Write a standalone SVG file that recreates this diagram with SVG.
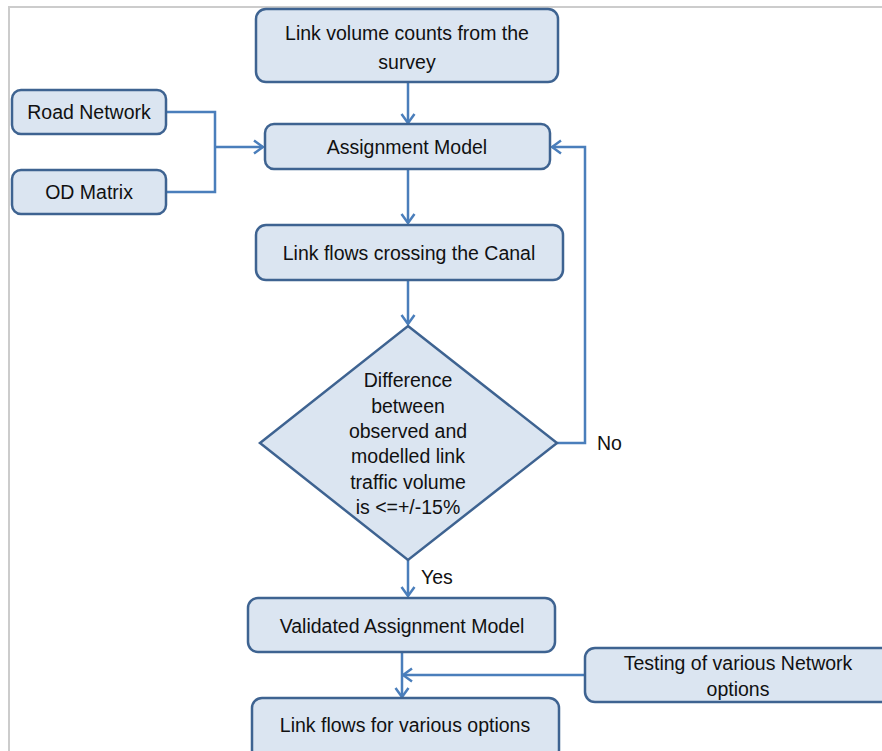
<svg xmlns="http://www.w3.org/2000/svg" width="882" height="751" viewBox="0 0 882 751">
<style>
.box{fill:#dbe5f1;stroke:#3e6391;stroke-width:2.5}
.t{font-family:"Liberation Sans",Arial,sans-serif;font-size:19.5px;fill:#111;text-anchor:middle}
.l{font-family:"Liberation Sans",Arial,sans-serif;font-size:19.5px;fill:#111}
.c{fill:none;stroke:#4a7ebb;stroke-width:2.5}
.frame{stroke:#cccccc;stroke-width:2;fill:none}
</style>
<defs>
<marker id="arr" markerUnits="userSpaceOnUse" markerWidth="14" markerHeight="16" viewBox="0 0 14 16" refX="12" refY="8" orient="auto">
<path d="M3,1.5 L12,8 L3,14.5" fill="none" stroke="#4a7ebb" stroke-width="2.5"/>
</marker>
</defs>
<rect width="882" height="751" fill="#ffffff"/>
<path class="frame" d="M9,751 V7 H882"/>
<g id="connectors">
<line class="c" x1="408" y1="82" x2="408" y2="123" marker-end="url(#arr)"/>
<polyline class="c" points="166,112 215,112 215,192 166,192"/>
<line class="c" x1="215" y1="147" x2="263" y2="147" marker-end="url(#arr)"/>
<line class="c" x1="408" y1="169" x2="408" y2="223" marker-end="url(#arr)"/>
<line class="c" x1="408" y1="280" x2="408" y2="324" marker-end="url(#arr)"/>
<polyline class="c" points="557,443 585,443 585,147 552,147" marker-end="url(#arr)"/>
<line class="c" x1="408" y1="560" x2="408" y2="596" marker-end="url(#arr)"/>
<line class="c" x1="402" y1="652" x2="402" y2="697" marker-end="url(#arr)"/>
<line class="c" x1="585" y1="675" x2="403" y2="675" marker-end="url(#arr)"/>
<text class="l" x="597" y="450">No</text>
<text class="l" x="421" y="584">Yes</text>
</g>
<g id="survey">
<rect class="box" x="256" y="9" width="302" height="73" rx="10"/>
<text class="t" x="407" y="40">Link volume counts from the</text>
<text class="t" x="407" y="69">survey</text>
</g>
<g id="road">
<rect class="box" x="12" y="90" width="154" height="44" rx="9"/>
<text class="t" x="89" y="119">Road Network</text>
</g>
<g id="od">
<rect class="box" x="12" y="170" width="154" height="44" rx="9"/>
<text class="t" x="89" y="199">OD Matrix</text>
</g>
<g id="assignment">
<rect class="box" x="265" y="124" width="285" height="45" rx="9"/>
<text class="t" x="407" y="154">Assignment Model</text>
</g>
<g id="canal">
<rect class="box" x="256" y="225" width="307" height="55" rx="10"/>
<text class="t" x="409" y="260">Link flows crossing the Canal</text>
</g>
<g id="decision">
<polygon class="box" points="408,326 557,443 408,560 260,443"/>
<text class="t" x="408" y="387">Difference</text>
<text class="t" x="408" y="413">between</text>
<text class="t" x="408" y="438">observed and</text>
<text class="t" x="408" y="463">modelled link</text>
<text class="t" x="408" y="489">traffic volume</text>
<text class="t" x="408" y="514">is &lt;=+/-15%</text>
</g>
<g id="validated">
<rect class="box" x="248" y="598" width="307" height="54" rx="10"/>
<text class="t" x="402" y="633">Validated Assignment Model</text>
</g>
<g id="testing">
<rect class="box" x="585" y="648" width="312" height="54" rx="10"/>
<text class="t" x="738" y="670">Testing of various Network</text>
<text class="t" x="738" y="696">options</text>
</g>
<g id="options">
<rect class="box" x="252" y="698" width="307" height="62" rx="10"/>
<text class="t" x="405" y="732">Link flows for various options</text>
</g>
</svg>
